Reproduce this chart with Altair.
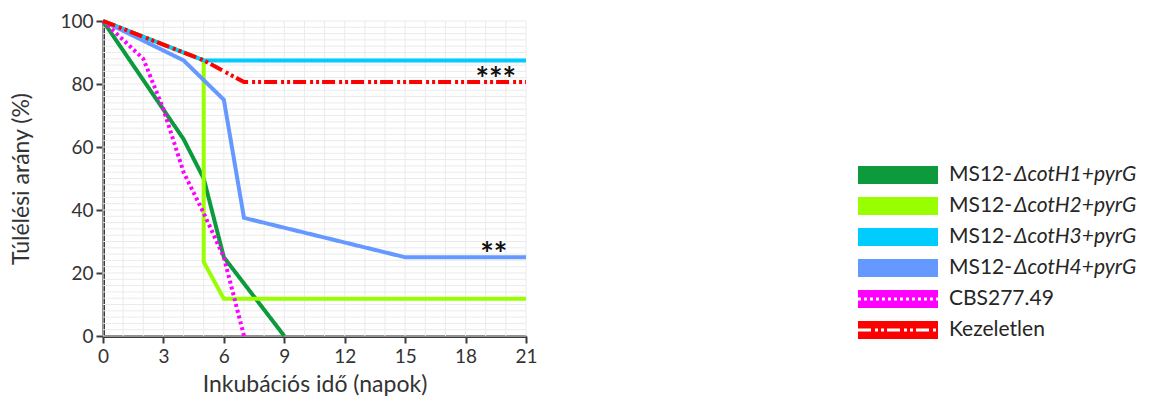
import altair as alt
import pandas as pd

# Survival curves (% surviving larvae per day of incubation)
series_names = ["H1", "H2", "H3", "H4", "CBS", "K"]
series_colors = ["#0c9a3c", "#99ff00", "#00ccff", "#6699ff", "#ff00ff", "#ff0000"]

days_h1 = [0, 4, 5, 6, 9]
surv_h1 = [100, 62.5, 50, 25, 0]
days_h2 = [0, 5, 5, 6, 21]
surv_h2 = [100, 87.5, 23.5, 11.8, 11.8]
days_h3 = [0, 5, 21]
surv_h3 = [100, 87.5, 87.5]
days_h4 = [0, 4, 6, 7, 15, 21]
surv_h4 = [100, 87.5, 75, 37.5, 25, 25]
days_cbs = [0, 2, 3, 4, 5, 6, 7]
surv_cbs = [100, 88, 72, 52, 39, 25, 0]
days_k = [0, 5, 7, 21]
surv_k = [100, 87.5, 80.6, 80.6]

# Significance marks
sig_labels = ["***", "**"]
sig_days = [19.5, 19.4]
sig_surv = [82.0, 26.5]

# Legend entries
legend_prefix = ["MS12-", "MS12-", "MS12-", "MS12-", "CBS277.49", "Kezeletlen"]
legend_suffix = ["\u0394cotH1+pyrG", "\u0394cotH2+pyrG", "\u0394cotH3+pyrG",
                 "\u0394cotH4+pyrG", "", ""]

x_ticks = [0, 3, 6, 9, 12, 15, 18, 21]
y_ticks = [0, 20, 40, 60, 80, 100]
x_grid = list(range(0, 22))
y_grid = list(range(0, 101, 2))

FONT = "Lato"
AXIS_COLOR = "#3a3a3a"

all_days = [days_h1, days_h2, days_h3, days_h4, days_cbs, days_k]
all_surv = [surv_h1, surv_h2, surv_h3, surv_h4, surv_cbs, surv_k]
rows = []
for name, ds, ss in zip(series_names, all_days, all_surv):
    for i, (d, s) in enumerate(zip(ds, ss)):
        rows.append({"series": name, "day": d, "surv": s, "idx": i})
curves = pd.DataFrame(rows)

dash_patterns = [[1, 0], [1, 0], [1, 0], [1, 0], [3, 3], [13, 4, 3, 3, 3, 3]]
widths = [4, 4, 4, 4, 3.5, 3.5]

x_scale = alt.Scale(domain=[0, 21], nice=False, zero=False)
y_scale = alt.Scale(domain=[0, 100], nice=False)

x_axis = alt.Axis(values=x_ticks, grid=False, title="Inkubációs idő (napok)",
                  domainColor=AXIS_COLOR, domainWidth=3, tickColor=AXIS_COLOR,
                  tickWidth=2, tickSize=7, labelFont=FONT, labelFontSize=19,
                  labelColor="#333333", titleFont=FONT, titleFontSize=23,
                  titleFontWeight="normal", titleColor="#333333",
                  labelPadding=4, titlePadding=7, labelFlush=False)
y_axis = alt.Axis(values=y_ticks, grid=False, title="Túlélési arány (%)",
                  domainColor=AXIS_COLOR, domainWidth=3, tickColor=AXIS_COLOR,
                  tickWidth=2, tickSize=7, labelFont=FONT, labelFontSize=19,
                  labelColor="#333333", titleFont=FONT, titleFontSize=23,
                  titleFontWeight="normal", titleColor="#333333",
                  labelPadding=3, titlePadding=26, labelFlush=False)

vgrid = alt.Chart(pd.DataFrame({"day": x_grid})).mark_rule(
    color="#ebebeb", strokeWidth=1).encode(
    x=alt.X("day:Q", scale=x_scale, axis=x_axis))
hgrid = alt.Chart(pd.DataFrame({"surv": y_grid})).mark_rule(
    color="#ebebeb", strokeWidth=1).encode(
    y=alt.Y("surv:Q", scale=y_scale, axis=y_axis))

lines = alt.Chart(curves).mark_line(strokeCap="butt", strokeJoin="miter").encode(
    x=alt.X("day:Q", scale=x_scale, axis=x_axis),
    y=alt.Y("surv:Q", scale=y_scale, axis=y_axis),
    color=alt.Color("series:N", scale=alt.Scale(domain=series_names, range=series_colors),
                    legend=None),
    strokeDash=alt.StrokeDash("series:N", scale=alt.Scale(domain=series_names,
                                                          range=dash_patterns),
                              legend=None),
    strokeWidth=alt.StrokeWidth("series:N", scale=alt.Scale(domain=series_names,
                                                            range=widths),
                                legend=None),
    detail="series:N",
    order="idx:Q",
)

sig = alt.Chart(pd.DataFrame({"day": sig_days, "surv": sig_surv, "label": sig_labels})
                ).mark_text(font=FONT, fontSize=32, fontWeight="bold", color="#111111",
                            baseline="middle", align="center", dy=3).encode(
    x=alt.X("day:Q", scale=x_scale, axis=x_axis),
    y=alt.Y("surv:Q", scale=y_scale, axis=y_axis),
    text="label:N")

main = alt.layer(vgrid, hgrid, lines, sig).properties(width=423, height=315)

# Hand-built legend with mixed upright / italic labels
ROW0, ROW_STEP = 154, 31
SW_W, TXT_X, SUF_X = 80, 91, 156
leg = pd.DataFrame({
    "row": [ROW0 + ROW_STEP * i for i in range(len(series_names))],
    "x0": [0] * len(series_names),
    "x1": [SW_W] * len(series_names),
    "col": series_colors,
    "prefix": legend_prefix,
    "suffix": legend_suffix,
    "tx": [TXT_X] * len(series_names),
    "sx": [SUF_X] * len(series_names),
})
lx = alt.Scale(domain=[0, 290], nice=False, zero=False)
ly = alt.Scale(domain=[0, 315], nice=False, reverse=True)

swatch = alt.Chart(leg).mark_rule(strokeWidth=18, strokeCap="butt").encode(
    x=alt.X("x0:Q", scale=lx, axis=None), x2="x1:Q",
    y=alt.Y("row:Q", scale=ly, axis=None),
    color=alt.Color("col:N", scale=None))
dots = alt.Chart(leg.iloc[[4]]).mark_rule(strokeWidth=3, color="white",
                                          strokeDash=[3, 3], strokeCap="butt").encode(
    x=alt.X("x0:Q", scale=lx, axis=None), x2="x1:Q",
    y=alt.Y("row:Q", scale=ly, axis=None))
dashdot = alt.Chart(leg.iloc[[5]]).mark_rule(strokeWidth=3, color="white",
                                             strokeDash=[13, 4, 3, 3, 3, 3],
                                             strokeCap="butt").encode(
    x=alt.X("x0:Q", scale=lx, axis=None), x2="x1:Q",
    y=alt.Y("row:Q", scale=ly, axis=None))
pre = alt.Chart(leg).mark_text(font=FONT, fontSize=21, color="#262626", align="left",
                               baseline="middle").encode(
    x=alt.X("tx:Q", scale=lx, axis=None), y=alt.Y("row:Q", scale=ly, axis=None),
    text="prefix:N")
suf = alt.Chart(leg).mark_text(font=FONT, fontSize=21, fontStyle="italic",
                               color="#262626", align="left",
                               baseline="middle").encode(
    x=alt.X("sx:Q", scale=lx, axis=None), y=alt.Y("row:Q", scale=ly, axis=None),
    text="suffix:N")

legend = alt.layer(swatch, dots, dashdot, pre, suf).properties(width=290, height=315)

chart = alt.hconcat(main, legend, spacing=311).properties(
    padding={"left": 10, "top": 12, "right": 0, "bottom": 0},
    background="white",
).configure_view(stroke=None)

chart.save("out.html", embed_options={"renderer": "svg", "actions": False})
